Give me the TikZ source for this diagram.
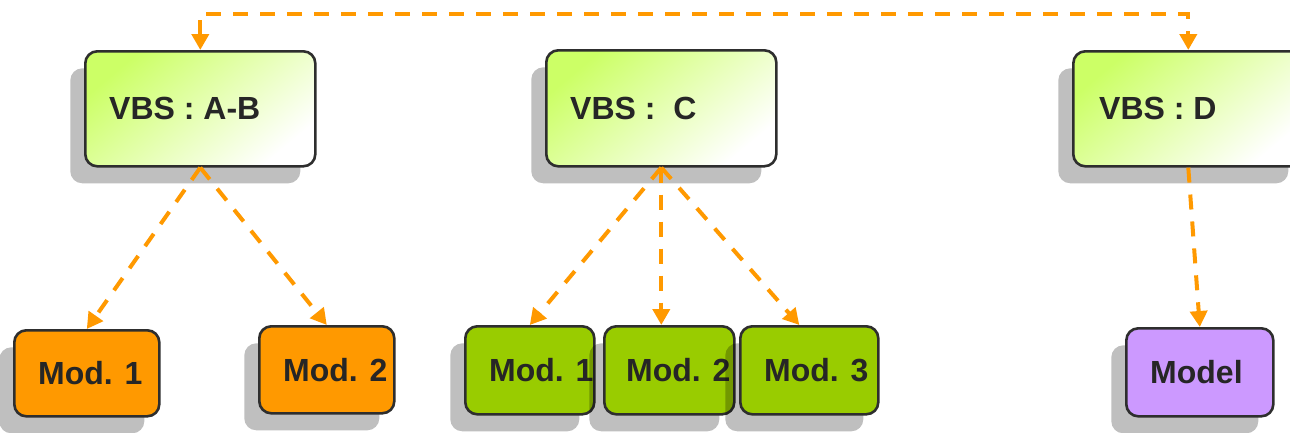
\documentclass[tikz,border=0pt]{standalone}
\usepackage{fontspec}
\setmainfont{Liberation Sans}
\usetikzlibrary{arrows.meta,shadows,calc}

\definecolor{linkorange}{HTML}{FF9900}
\definecolor{modorange}{HTML}{FF9900}
\definecolor{modgreen}{HTML}{99CC00}
\definecolor{modpurple}{HTML}{CC99FF}
\definecolor{limetop}{HTML}{CCFF66}
\definecolor{edgegrey}{HTML}{2E2E2E}
\definecolor{inkgrey}{HTML}{262626}

\tikzset{
  x=1pt, y=-1pt,
  boxbase/.style={draw=edgegrey, line width=2.6pt, rounded corners=12pt,
    inner sep=0pt, anchor=north west,
    drop shadow={shadow xshift=-15pt, shadow yshift=-17pt, fill=black, opacity=0.25}},
  vbsbox/.style={boxbase, minimum width=230pt, minimum height=115pt,
    top color=limetop, middle color=limetop!45!white, bottom color=white, shading angle=40},
  modbox/.style={boxbase, fill=#1},
  vbslabel/.style={anchor=west, inner sep=0pt, text=inkgrey,
    font=\fontsize{32}{32}\selectfont\bfseries},
  modlabel/.style={anchor=west, inner sep=0pt, text=inkgrey,
    font=\fontsize{32}{32}\selectfont\bfseries},
  tipshape/.tip={Triangle[length=16pt,width=17pt]},
  link/.style={draw=linkorange, line width=4pt, dash pattern=on 15pt off 12pt,
    -tipshape},
}

\begin{document}
\begin{tikzpicture}
\useasboundingbox (0,0) rectangle (1290,432);
\clip (0,0) rectangle (1290,432);

% upper level: VBS boxes
\node[vbsbox] (AB) at (84,50) {};
\node[vbslabel] (ABt) at ([xshift=25pt]AB.west) {VBS : A-B};
\node[vbsbox, minimum height=116pt] (C) at (545,49) {};
\node[vbslabel] (Ct) at ([xshift=25pt]C.west) {VBS :\ \ C};
\node[vbsbox] (D) at (1072,50) {};
\node[vbslabel] (Dt) at ([xshift=27pt]D.west) {VBS : D};

% lower level: modules
\node[modbox=modorange, minimum width=145pt, minimum height=86pt] (o1) at (13,329) {};
\node[modlabel] (o1t) at ([xshift=25pt]o1.west) {Mod. 1};
\node[modbox=modorange, minimum width=135pt, minimum height=87pt] (o2) at (258,325) {};
\node[modlabel] (o2t) at ([xshift=25pt]o2.west) {Mod. 2};

\node[modbox=modgreen, minimum width=129pt, minimum height=88pt] (g1) at (464,325) {};
\node[modlabel] (g1t) at ([xshift=25pt]g1.west) {Mod. 1};
\node[modbox=modgreen, minimum width=130pt, minimum height=88pt] (g2) at (603,325) {};
\node[modlabel] (g2t) at ([xshift=23pt]g2.west) {Mod. 2};
\node[modbox=modgreen, minimum width=138pt, minimum height=88pt] (g3) at (739,325) {};
\node[modlabel] (g3t) at ([xshift=25pt]g3.west) {Mod. 3};

\node[modbox=modpurple, minimum width=147pt, minimum height=88pt] (M) at (1125,327) {};
\node[modlabel] (Mt) at ([xshift=25pt]M.west) {Model};

% connectors
\draw[link, tipshape-tipshape] (AB.north) -- ++(0,-36) -| (D.north);
\draw[link] (AB.south) -- (o1.north);
\draw[link] (AB.south) -- (o2.north);
\draw[link] (C.south) -- (g1.north);
\draw[link] (C.south) -- (C.south |- g2.north);
\draw[link] (C.south) -- ([xshift=-10pt]g3.north);
\draw[link] (D.south) -- (M.north);
\end{tikzpicture}
\end{document}
